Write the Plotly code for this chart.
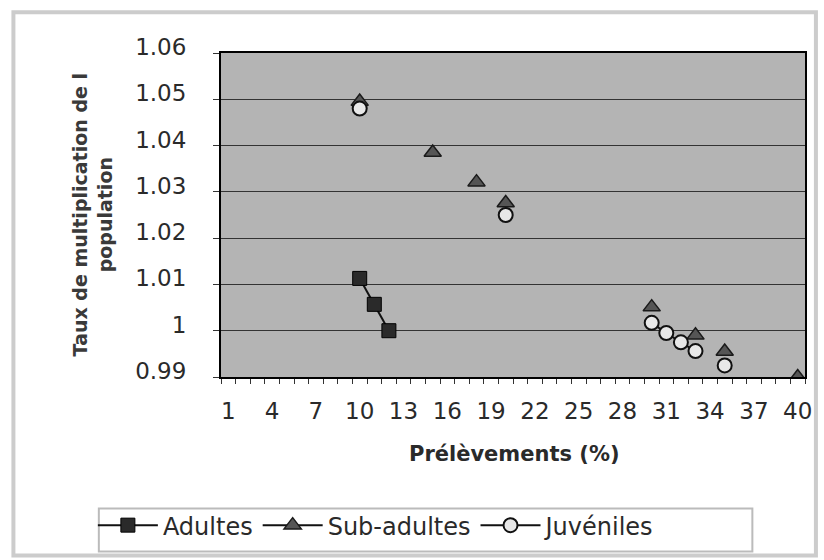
import plotly.graph_objects as go

# Categories 1..40 (Prélèvements %)
categories = list(range(1, 41))

# Series values keyed by category (only categories with data)
adultes_x = [10, 11, 12]
adultes_y = [1.0113, 1.0057, 1.0000]

sub_x = [10, 15, 18, 20, 30, 33, 35, 40]
sub_y = [1.0495, 1.0385, 1.0321, 1.0276, 1.0051, 0.9990, 0.9955, 0.9900]

juv_x = [10, 20, 30, 31, 32, 33, 35]
juv_y = [1.0480, 1.0250, 1.0017, 0.9995, 0.9975, 0.9956, 0.9925]

x_tick_vals = list(range(1, 41, 3))
x_tick_text = [str(v) for v in x_tick_vals]
y_tick_vals = [0.99, 1.00, 1.01, 1.02, 1.03, 1.04, 1.05, 1.06]
y_tick_text = ["0.99", "1", "1.01", "1.02", "1.03", "1.04", "1.05", "1.06"]


def full_series(xs, ys):
    m = dict(zip(xs, ys))
    return [m.get(c) for c in categories]


FONT = "DejaVu Sans, Liberation Sans, Arial, sans-serif"

fig = go.Figure()
fig.add_trace(go.Scatter(
    x=categories, y=full_series(adultes_x, adultes_y), name="Adultes",
    mode="lines+markers", connectgaps=False,
    line=dict(color="#111111", width=2),
    marker=dict(symbol="square", size=14, color="#2a2a2a",
                line=dict(color="#000000", width=1)),
))
fig.add_trace(go.Scatter(
    x=categories, y=full_series(sub_x, sub_y), name="Sub-adultes",
    mode="lines+markers", connectgaps=False,
    line=dict(color="#111111", width=2),
    marker=dict(symbol="triangle-up", size=15, color="#555555",
                line=dict(color="#1a1a1a", width=1.5)),
))
fig.add_trace(go.Scatter(
    x=categories, y=full_series(juv_x, juv_y), name="Juvéniles",
    mode="lines+markers", connectgaps=False,
    line=dict(color="#111111", width=2),
    marker=dict(symbol="circle", size=14, color="#e8e8e8",
                line=dict(color="#111111", width=2)),
))

# Plot area in pixels
L, R, T, B = 221, 809, 53, 378
W, H = 824, 560
pw, ph = R - L, B - T


def px(xp):
    return (xp - L) / pw


def py(yp):
    return (B - yp) / ph


fig.update_layout(
    width=W, height=H,
    margin=dict(l=L, r=W - R, t=T, b=H - B),
    paper_bgcolor="white",
    plot_bgcolor="#b4b4b4",
    font=dict(family=FONT, size=23, color="#2a2a2a"),
    showlegend=True,
    legend=dict(
        orientation="h", x=px(92), y=py(527), xanchor="left", yanchor="middle",
        bgcolor="rgba(0,0,0,0)", borderwidth=0,
        font=dict(family=FONT, size=24, color="#2a2a2a"),
        itemsizing="trace", itemwidth=60,
    ),
    xaxis=dict(
        range=[0.5, 40.5], tickmode="array", tickvals=x_tick_vals, ticktext=x_tick_text,
        ticks="", showgrid=False, zeroline=False,
        showline=True, linecolor="#000000", linewidth=2, mirror=True,
        tickfont=dict(family=FONT, size=23, color="#2a2a2a"),
        ticklabelstandoff=12,
        minor=dict(tick0=0.5, dtick=1, ticks="outside", ticklen=5,
                   tickcolor="#333333", tickwidth=1, showgrid=False),
    ),
    yaxis=dict(
        range=[0.99, 1.06], tickmode="array", tickvals=y_tick_vals, ticktext=y_tick_text,
        ticks="outside", ticklen=6, tickcolor="#333333",
        showgrid=True, gridcolor="#333333", gridwidth=1, zeroline=False,
        showline=True, linecolor="#000000", linewidth=2, mirror=True,
        tickfont=dict(family=FONT, size=23, color="#2a2a2a"),
        ticklabelstandoff=22, ticklabelshift=-6,
    ),
    annotations=[
        dict(text="<b>Taux de multiplication de l<br>population</b>", textangle=-90,
             xref="paper", yref="paper", x=px(92), y=py(215),
             xanchor="center", yanchor="middle", showarrow=False,
             font=dict(family=FONT, size=19, color="#3a3a3a")),
        dict(text="<b>Prélèvements (%)</b>",
             xref="paper", yref="paper", x=px(517), y=py(455),
             xanchor="center", yanchor="middle", showarrow=False,
             font=dict(family=FONT, size=21, color="#2a2a2a")),
    ],
    shapes=[
        dict(type="rect", xref="paper", yref="paper",
             x0=px(12), x1=px(820), y0=py(557), y1=py(12),
             line=dict(color="#cccccc", width=4), fillcolor="rgba(0,0,0,0)", layer="below"),
        dict(type="rect", xref="paper", yref="paper",
             x0=px(98), x1=px(756), y0=py(553), y1=py(510),
             line=dict(color="#bbbbbb", width=2), fillcolor="rgba(0,0,0,0)", layer="below"),
    ],
)

fig.write_html("out.html")
